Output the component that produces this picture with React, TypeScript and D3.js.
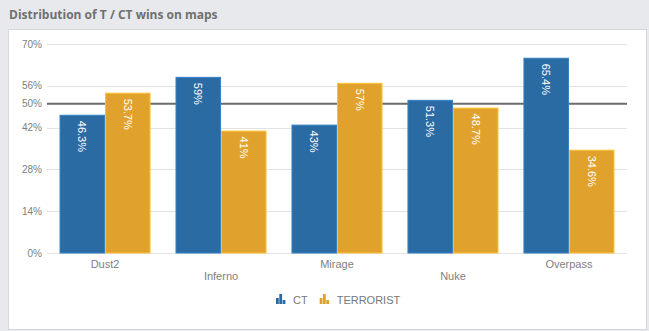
import React, { useEffect, useRef } from 'react';
import * as d3 from 'd3';

const maps = ['Dust2', 'Inferno', 'Mirage', 'Nuke', 'Overpass'];
const ctWins = [46.3, 59, 43, 51.3, 65.4];
const tWins = [53.7, 41, 57, 48.7, 34.6];
const yTicks = [0, 14, 28, 42, 56, 70];
const refLine = 50;

const series = [
  { name: 'CT', values: ctWins, color: '#2b6ba4' },
  { name: 'TERRORIST', values: tWins, color: '#e0a22c' },
];

const App: React.FC = () => {
  const ref = useRef<SVGSVGElement>(null);

  useEffect(() => {
    if (!ref.current) return;
    const svg = d3.select(ref.current);
    svg.selectAll('*').remove();

    const W = 649;
    const H = 331;
    const margin = { top: 44, right: 22, bottom: 78, left: 47 };
    const width = W - margin.left - margin.right;
    const height = H - margin.top - margin.bottom;

    // page background + panel
    svg.append('rect').attr('width', W).attr('height', H).attr('fill', '#e8e9ec');
    svg
      .append('rect')
      .attr('x', 8.5)
      .attr('y', 29.5)
      .attr('width', 638)
      .attr('height', 300)
      .attr('fill', '#fff')
      .attr('stroke', '#d6d7da');

    svg
      .append('text')
      .attr('x', 9)
      .attr('y', 19)
      .attr('font-family', 'Open Sans, sans-serif')
      .attr('font-weight', 'bold')
      .attr('font-size', 12)
      .attr('fill', '#707070')
      .text('Distribution of T / CT wins on maps');

    const g = svg.append('g').attr('transform', `translate(${margin.left},${margin.top})`);

    const x0 = d3.scaleBand().domain(maps).range([0, width]).paddingInner(0.215).paddingOuter(0.108);
    const x1 = d3
      .scaleBand()
      .domain(series.map((s) => s.name))
      .range([0, x0.bandwidth()]);
    const y = d3.scaleLinear().domain([0, 70]).range([height, 0]);

    // gridlines
    g.selectAll('.grid')
      .data(yTicks)
      .enter()
      .append('line')
      .attr('x1', 0)
      .attr('x2', width)
      .attr('y1', (d) => Math.round(y(d)) + 0.5)
      .attr('y2', (d) => Math.round(y(d)) + 0.5)
      .attr('stroke', '#e3e3e3');

    // y tick labels
    const yLabels = [...yTicks, refLine];
    g.selectAll('.ylab')
      .data(yLabels)
      .enter()
      .append('text')
      .attr('x', -5)
      .attr('y', (d) => y(d))
      .attr('dy', '0.35em')
      .attr('text-anchor', 'end')
      .attr('font-family', 'Liberation Sans, Arial, sans-serif')
      .attr('font-size', 10)
      .attr('fill', '#808080')
      .text((d) => `${d}%`);

    // reference line
    g.append('line')
      .attr('x1', 0)
      .attr('x2', width)
      .attr('y1', y(refLine))
      .attr('y2', y(refLine))
      .attr('stroke', '#6b6b6b')
      .attr('stroke-width', 2);

    // bars
    maps.forEach((m, i) => {
      series.forEach((s) => {
        const v = s.values[i];
        const bx = (x0(m) as number) + (x1(s.name) as number);
        g.append('rect')
          .attr('x', bx + 0.5)
          .attr('y', y(v) + 0.5)
          .attr('width', x1.bandwidth() - 1)
          .attr('height', height - y(v) - 0.5)
          .attr('fill', s.color)
          .attr('stroke', d3.color(s.color)!.brighter(0.5).toString())
          .attr('stroke-width', 1);
        const cx = bx + x1.bandwidth() / 2;
        g.append('text')
          .attr('transform', `translate(${cx},${y(v) + 6}) rotate(90)`)
          .attr('dy', '0.35em')
          .attr('font-family', 'Liberation Sans, Arial, sans-serif')
          .attr('font-size', 11)
          .attr('fill', '#fff')
          .text(`${v}%`);
      });
    });

    // category labels (staggered)
    g.selectAll('.xlab')
      .data(maps)
      .enter()
      .append('text')
      .attr('x', (d) => (x0(d) as number) + x0.bandwidth() / 2)
      .attr('y', (d, i) => height + (i % 2 === 0 ? 15 : 27))
      .attr('text-anchor', 'middle')
      .attr('font-family', 'Liberation Sans, Arial, sans-serif')
      .attr('font-size', 11)
      .attr('fill', '#808080')
      .text((d) => d);

    // legend
    const legend = svg.append('g').attr('transform', 'translate(276,300)');
    let lx = 0;
    series.forEach((s) => {
      const item = legend.append('g').attr('transform', `translate(${lx},0)`);
      [6, 10, 4].forEach((h, k) => {
        item
          .append('rect')
          .attr('x', k * 3.3)
          .attr('y', -h + 4)
          .attr('width', 2.8)
          .attr('height', h)
          .attr('fill', s.color);
      });
      const t = item
        .append('text')
        .attr('x', 17)
        .attr('y', 4)
        .attr('font-family', 'Liberation Sans, Arial, sans-serif')
        .attr('font-size', 11)
        .attr('fill', '#777')
        .text(s.name);
      const tw = (t.node() as SVGTextElement).getComputedTextLength();
      lx += 17 + tw + 12;
    });
  }, []);

  return (
    <svg
      ref={ref}
      width={649}
      height={331}
      style={{ position: 'absolute', left: 0, top: 0 }}
    />
  );
};

export default App;
